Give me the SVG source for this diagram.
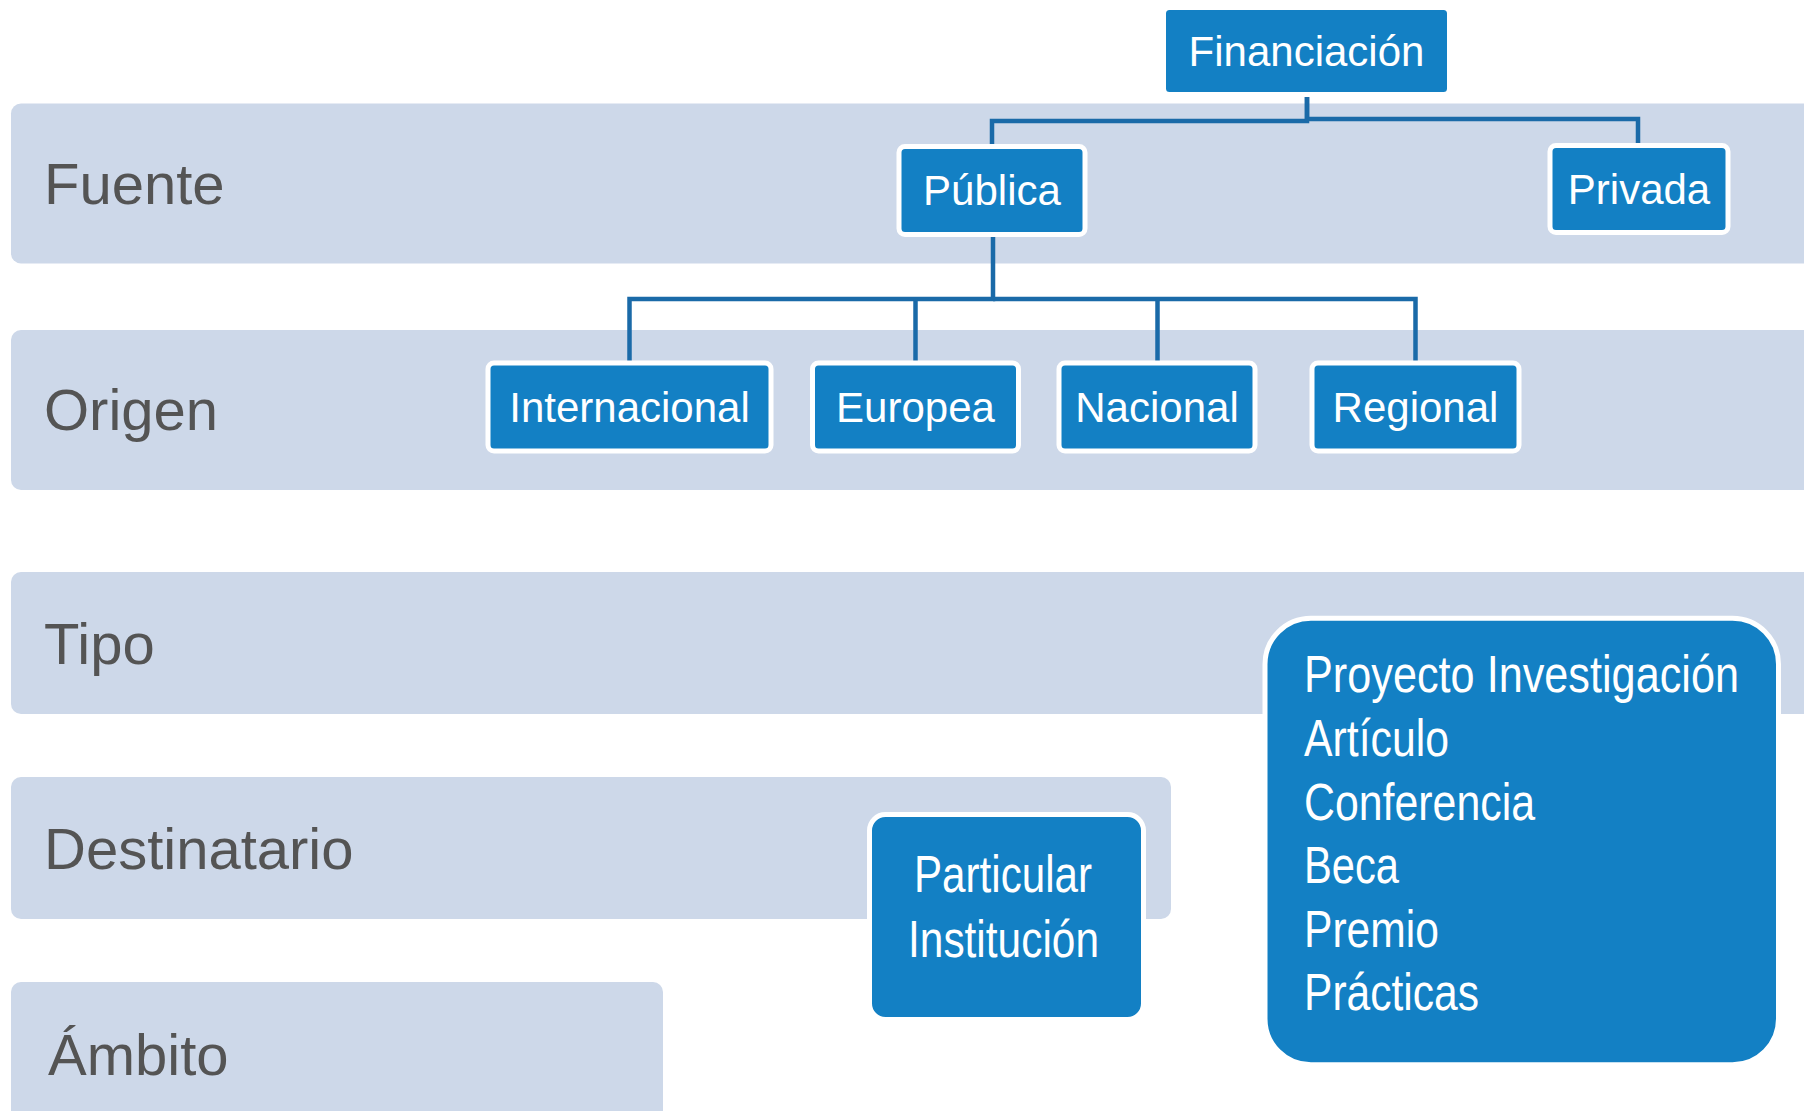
<svg xmlns="http://www.w3.org/2000/svg" width="1804" height="1111" viewBox="0 0 1804 1111">
<style>
.band{fill:#CDD8E9}
.lbl{font-family:"Liberation Sans",Arial,sans-serif;font-size:58px;fill:#545454}
.node{fill:#1380C4;stroke:#FFFFFF;stroke-width:5}
.nt{font-family:"Liberation Sans",Arial,sans-serif;font-size:42px;fill:#FFFFFF;text-anchor:middle}
.nn{font-family:"Liberation Sans Narrow","Liberation Sans",Arial,sans-serif;font-size:52px;fill:#FFFFFF}
.conn{fill:none;stroke:#1A6AA8;stroke-width:4.5}
</style>
<rect width="1804" height="1111" fill="#FFFFFF"/>
<g id="bands">
<rect class="band" x="11" y="103.5" width="1820" height="160" rx="10"/>
<rect class="band" x="11" y="330" width="1820" height="160" rx="10"/>
<rect class="band" x="11" y="572" width="1820" height="142" rx="10"/>
<rect class="band" x="11" y="777" width="1160" height="142" rx="10"/>
<rect class="band" x="11" y="982" width="652" height="143" rx="10"/>
<text class="lbl" x="44" y="204">Fuente</text>
<text class="lbl" x="44" y="430">Origen</text>
<text class="lbl" x="44" y="664">Tipo</text>
<text class="lbl" x="44" y="869">Destinatario</text>
<text class="lbl" x="48" y="1075">Ámbito</text>
</g>
<g id="connectors">
<path class="conn" d="M1307,92 V121 H992 V147"/>
<path class="conn" d="M1307,92 V119 H1638 V145"/>
<path class="conn" d="M993,237 V299 H629.5 V362"/>
<path class="conn" d="M993,299 H1415.5 V362"/>
<path class="conn" d="M915.5,299 V362"/>
<path class="conn" d="M1157.5,299 V362"/>
</g>
<g id="financiacion">
<rect class="node" x="1163.5" y="7.5" width="286" height="87" rx="6"/>
<text class="nt" x="1306.5" y="66">Financiación</text>
</g>
<g id="publica">
<rect class="node" x="899" y="146.5" width="186" height="88" rx="6"/>
<text class="nt" x="992" y="205">Pública</text>
</g>
<g id="privada">
<rect class="node" x="1550" y="145.5" width="178" height="87" rx="6"/>
<text class="nt" x="1639" y="204">Privada</text>
</g>
<g id="internacional">
<rect class="node" x="488" y="363" width="283" height="88" rx="6"/>
<text class="nt" x="629.5" y="422">Internacional</text>
</g>
<g id="europea">
<rect class="node" x="812.5" y="363" width="206" height="88" rx="6"/>
<text class="nt" x="915.5" y="422">Europea</text>
</g>
<g id="nacional">
<rect class="node" x="1059" y="363" width="196" height="88" rx="6"/>
<text class="nt" x="1157" y="422">Nacional</text>
</g>
<g id="regional">
<rect class="node" x="1312" y="363" width="207" height="88" rx="6"/>
<text class="nt" x="1415.5" y="422">Regional</text>
</g>
<g id="destinatario-node">
<rect class="node" x="869.5" y="814.5" width="274" height="205" rx="16"/>
<text class="nn" x="1003" y="892" text-anchor="middle" textLength="178" lengthAdjust="spacingAndGlyphs">Particular</text>
<text class="nn" x="1003.5" y="957" text-anchor="middle" textLength="191" lengthAdjust="spacingAndGlyphs">Institución</text>
</g>
<g id="tipo-node">
<rect class="node" x="1265" y="618.2" width="513.5" height="446.6" rx="46"/>
<text class="nn" x="1304" y="692" textLength="435" lengthAdjust="spacingAndGlyphs">Proyecto Investigación</text>
<text class="nn" x="1304" y="756" textLength="145" lengthAdjust="spacingAndGlyphs">Artículo</text>
<text class="nn" x="1304" y="820" textLength="231" lengthAdjust="spacingAndGlyphs">Conferencia</text>
<text class="nn" x="1304" y="883" textLength="95" lengthAdjust="spacingAndGlyphs">Beca</text>
<text class="nn" x="1304" y="947" textLength="135" lengthAdjust="spacingAndGlyphs">Premio</text>
<text class="nn" x="1304" y="1010" textLength="175" lengthAdjust="spacingAndGlyphs">Prácticas</text>
</g>
</svg>
